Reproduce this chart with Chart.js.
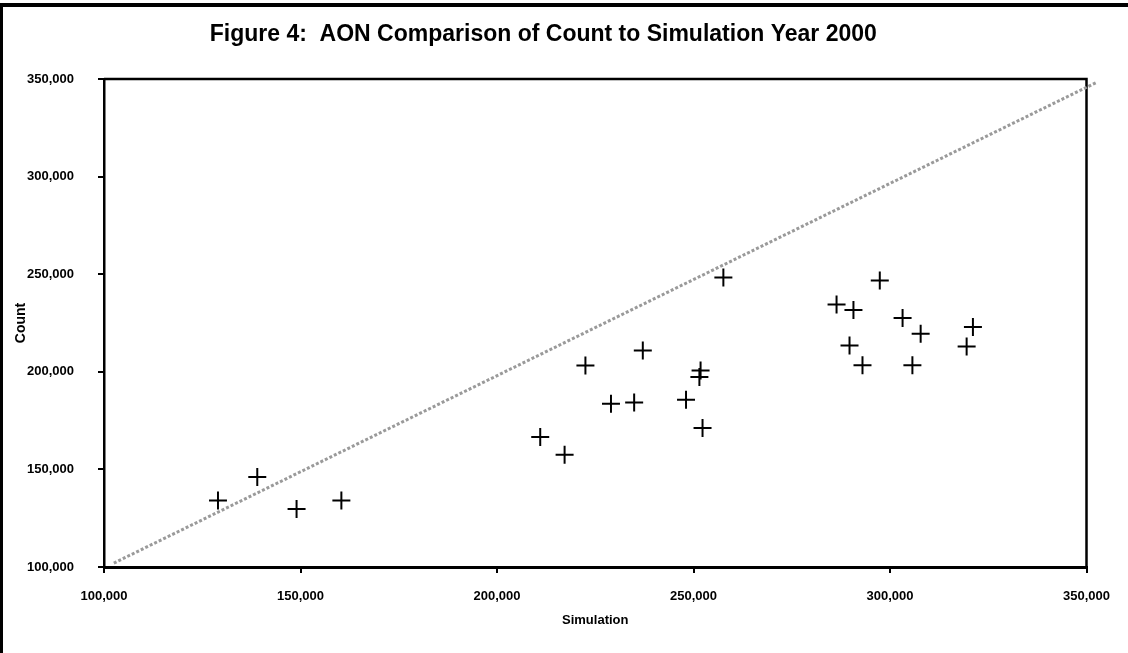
<!DOCTYPE html>
<html>
<head>
<meta charset="utf-8">
<script src="https://cdn.jsdelivr.net/npm/chart.js@4/dist/chart.umd.min.js"></script>
<style>
  html, body { margin: 0; padding: 0; background: #fff; }
  #wrap { width: 1128px; height: 653px; position: relative; }
</style>
</head>
<body>
<div id="wrap"><canvas id="c" width="1128" height="653"></canvas></div>
<script>
// Data
const simulation = [129000, 139000, 149000, 160400, 211000, 217200, 222500, 229000, 234900, 237100, 248100, 251800, 251500, 252300, 257600, 286400, 290700, 297400, 289700, 293000, 303200, 307800, 305700, 321100, 319500];
const count      = [134100, 146100, 129700, 134100, 166600, 157500, 203200, 183600, 184300, 210900, 185700, 200700, 197300, 171200, 248300, 234500, 231700, 246800, 213500, 203400, 227600, 219500, 203400, 222900, 213000];
const lineX = [102500, 352600];
const lineY = [102000, 348300];
const xTicks = [100000, 150000, 200000, 250000, 300000, 350000];
const yTicks = [100000, 150000, 200000, 250000, 300000, 350000];
const titleText = 'Figure 4:  AON Comparison of Count to Simulation Year 2000';
const xTitle = 'Simulation';
const yTitle = 'Count';

const FONT = "'Liberation Sans', Arial, sans-serif";
const fmt = v => Number(v).toLocaleString('en-US');

const frame = {
  id: 'frame',
  beforeDraw(chart) {
    const ctx = chart.ctx;
    ctx.save();
    ctx.fillStyle = '#fff';
    ctx.fillRect(0, 0, chart.width, chart.height);
    ctx.fillStyle = '#000';
    ctx.fillRect(0, 3, chart.width, 4);
    ctx.fillRect(0, 3, 3, chart.height);
    ctx.restore();
  },
  beforeDatasetsDraw(chart) {
    const {ctx, chartArea: a} = chart;
    ctx.save();
    ctx.strokeStyle = '#000';
    ctx.lineWidth = 2.5;
    ctx.beginPath();
    ctx.moveTo(a.left, a.top);
    ctx.lineTo(a.right, a.top);
    ctx.lineTo(a.right, a.bottom);
    ctx.stroke();
    ctx.restore();
  }
};

new Chart(document.getElementById('c'), {
  type: 'scatter',
  data: {
    datasets: [
      {
        label: 'points',
        data: simulation.map((x, i) => ({x, y: count[i]})),
        pointStyle: 'cross',
        pointRadius: 9,
        pointHoverRadius: 9,
        borderColor: '#000',
        backgroundColor: '#000',
        borderWidth: 2
      },
      {
        label: 'line',
        type: 'line',
        data: lineX.map((x, i) => ({x, y: lineY[i]})),
        showLine: true,
        pointRadius: 0,
        borderColor: '#9a9a9a',
        borderWidth: 3,
        borderDash: [3, 2],
        fill: false,
        clip: false
      }
    ]
  },
  options: {
    responsive: false,
    animation: false,
    devicePixelRatio: 1,
    layout: { padding: { left: 0, right: 41.5, top: 0, bottom: 0 } },
    plugins: {
      legend: { display: false },
      tooltip: { enabled: false },
      title: {
        display: true,
        text: titleText,
        color: '#000',
        font: { family: FONT, size: 23, weight: 'bold', lineHeight: 1.2 },
        padding: { top: 21, bottom: 30.4 }
      }
    },
    scales: {
      x: {
        type: 'linear',
        min: 100000, max: 350000,
        afterBuildTicks: s => { s.ticks = xTicks.map(v => ({value: v})); },
        afterFit: s => { s.height = 86; },
        ticks: {
          color: '#000', padding: 16, maxRotation: 0,
          font: { family: FONT, size: 13, weight: 'bold' },
          callback: v => fmt(v)
        },
        grid: { drawOnChartArea: false, drawTicks: true, tickLength: 6, color: '#000', lineWidth: 2 },
        border: { display: true, color: '#000', width: 3 },
        title: {
          display: true, text: xTitle, color: '#000',
          font: { family: FONT, size: 13, weight: 'bold', lineHeight: 1.2 },
          padding: { top: 0, bottom: 25 }
        }
      },
      y: {
        type: 'linear',
        min: 100000, max: 350000,
        afterBuildTicks: s => { s.ticks = yTicks.map(v => ({value: v})); },
        afterFit: s => { s.width = 104; },
        ticks: {
          color: '#000', padding: 24,
          font: { family: FONT, size: 13, weight: 'bold' },
          callback: v => fmt(v)
        },
        grid: { drawOnChartArea: false, drawTicks: true, tickLength: 6, color: '#000', lineWidth: 2 },
        border: { display: true, color: '#000', width: 2.5 },
        title: {
          display: true, text: yTitle, color: '#000',
          font: { family: FONT, size: 14, weight: 'bold', lineHeight: 1.2 },
          padding: { top: 13, bottom: 0 }
        }
      }
    }
  },
  plugins: [frame]
});
</script>
</body>
</html>
